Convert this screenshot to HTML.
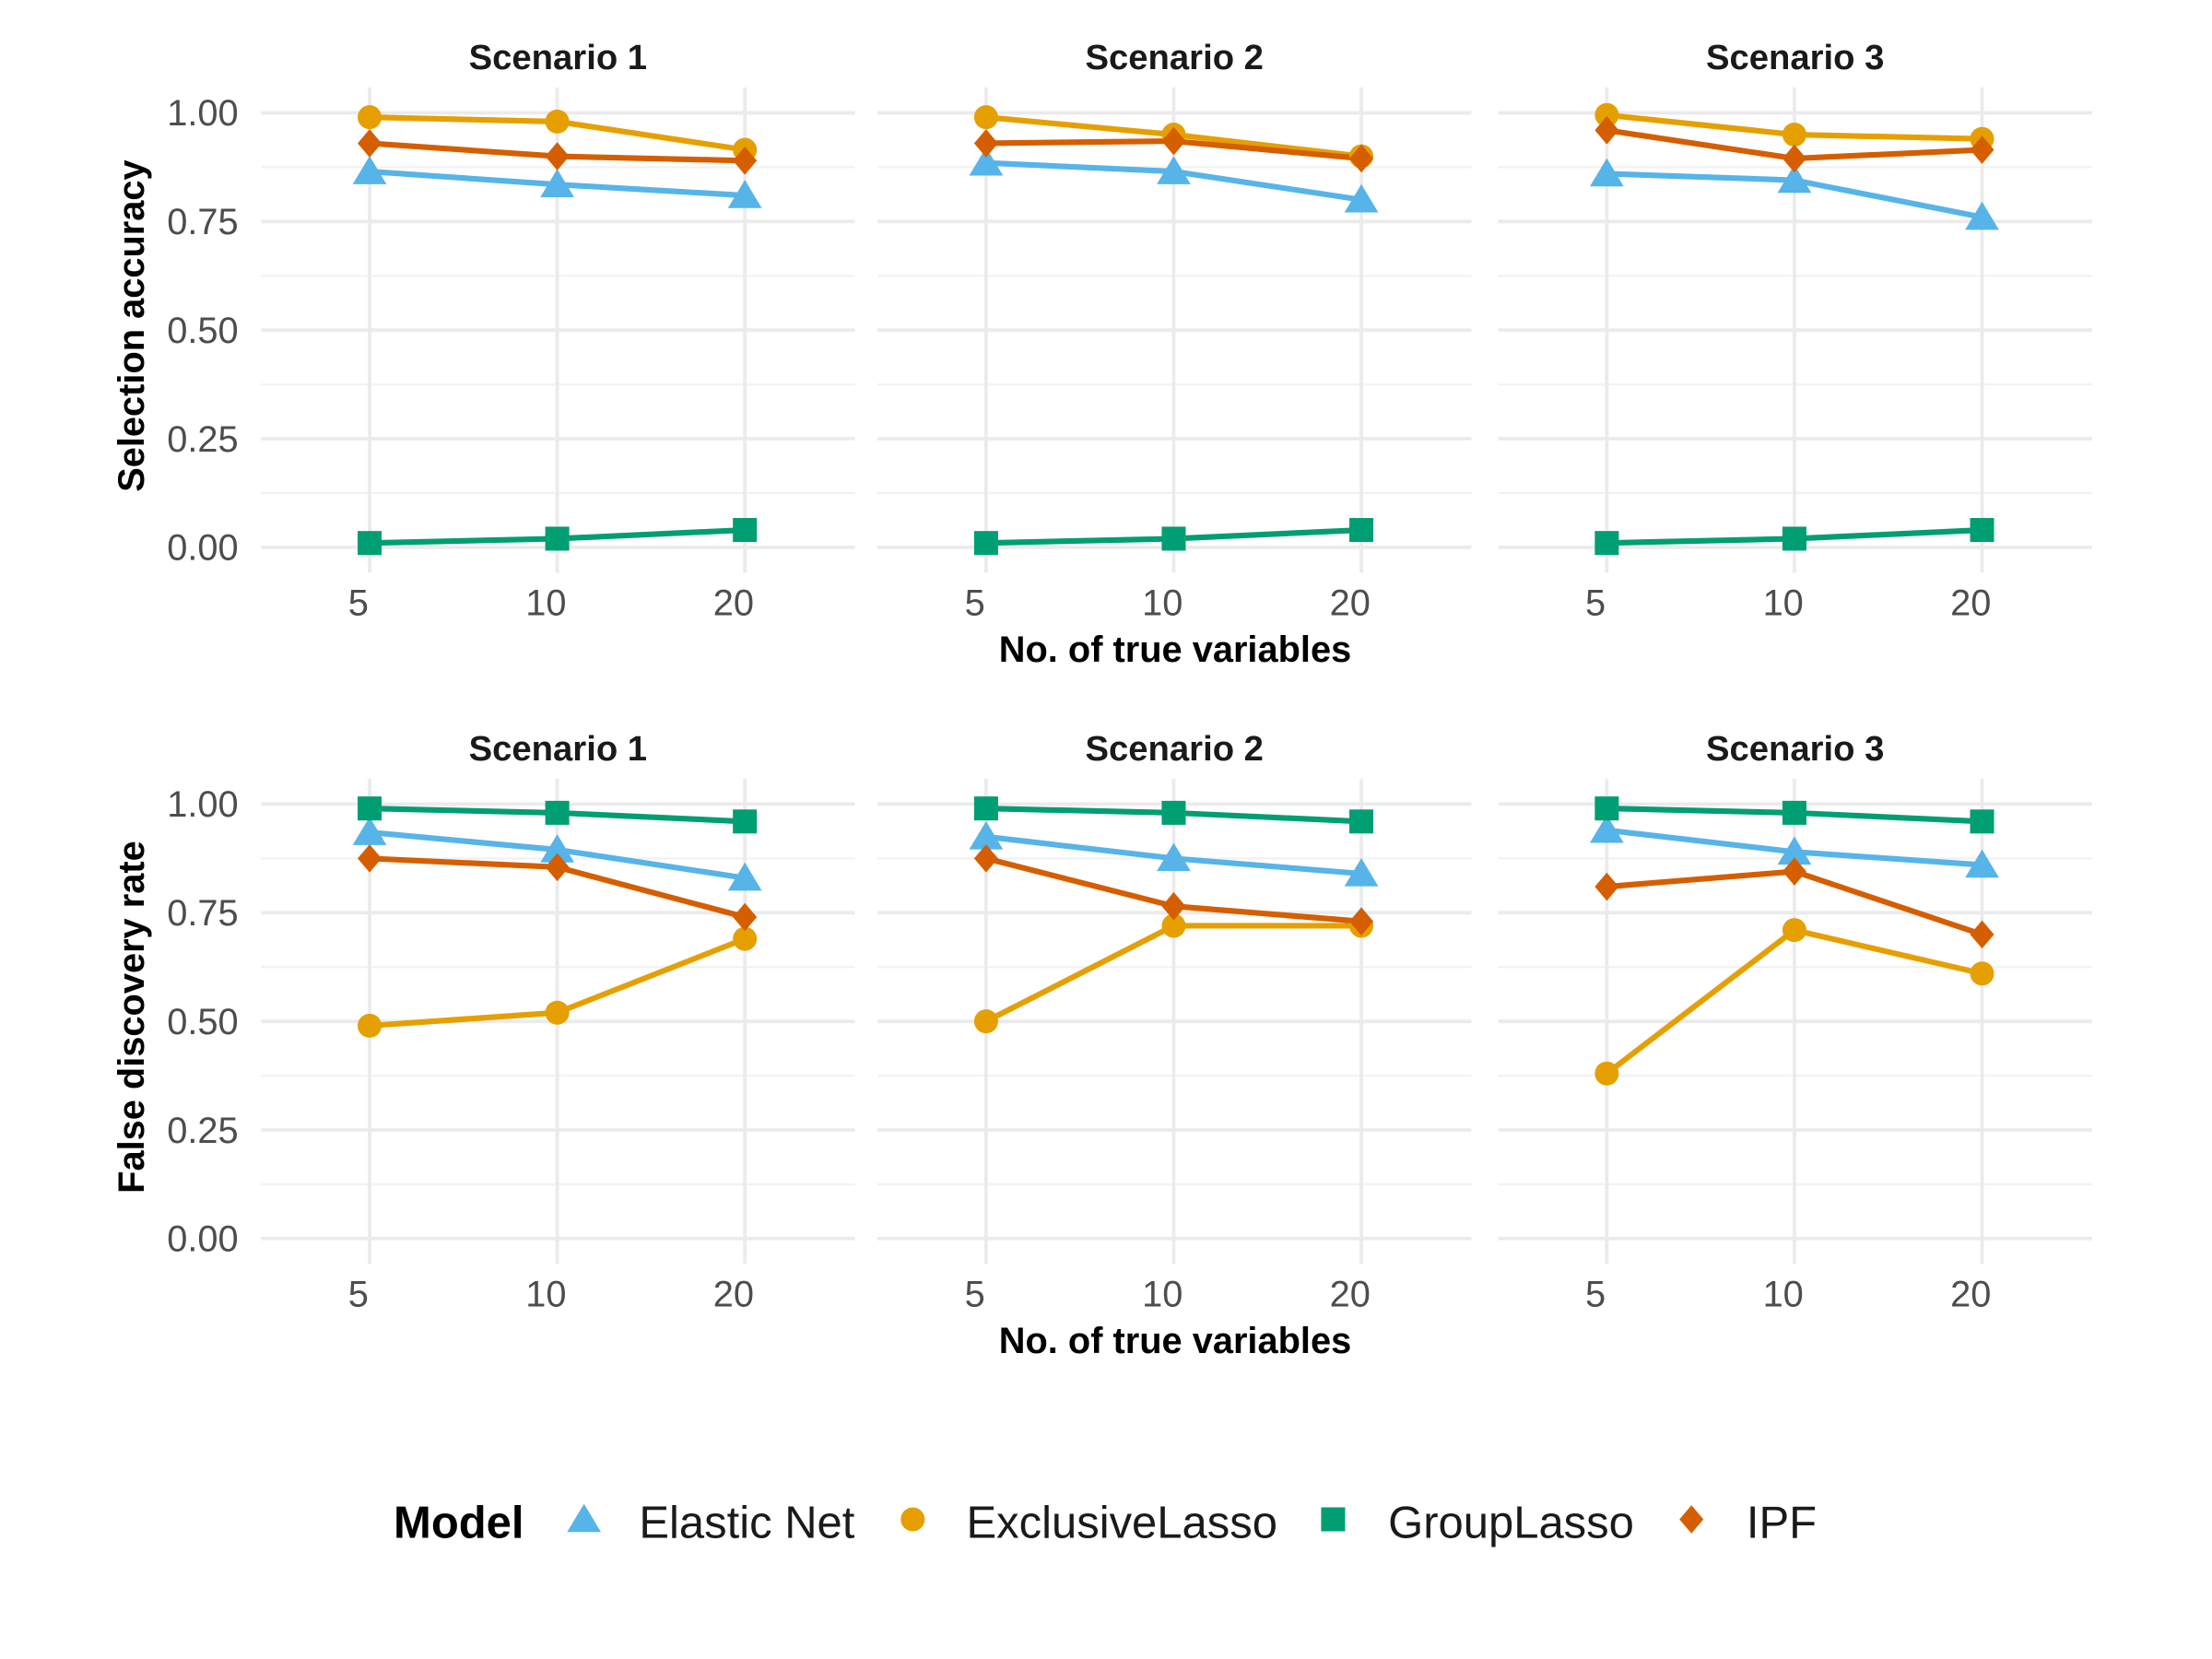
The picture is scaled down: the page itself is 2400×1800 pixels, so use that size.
<!DOCTYPE html>
<html><head><meta charset="utf-8"><style>
html,body{margin:0;padding:0;background:#fff}
svg{display:block}
text{font-family:"Liberation Sans",Arial,sans-serif}
</style></head><body>
<svg id="chart" width="2400" height="1800" viewBox="0 0 1568 1176" xmlns="http://www.w3.org/2000/svg"></svg>
<script>
const scenarios = ["Scenario 1","Scenario 2","Scenario 3"];
const xCats = [5,10,20];
const yTicks = [0,0.25,0.5,0.75,1];
const yTickLabels = ["0.00","0.25","0.50","0.75","1.00"];
const models = ["Elastic Net","ExclusiveLasso","GroupLasso","IPF"];
const colors = ["#56B4E9","#E69F00","#009E73","#D55E00"];
// Selection accuracy [scenario][x]
const accEN = [[0.865,0.835,0.81],[0.885,0.865,0.80],[0.86,0.845,0.76]];
const accEL = [[0.99,0.98,0.915],[0.99,0.95,0.90],[0.995,0.95,0.94]];
const accGL = [[0.01,0.02,0.04],[0.01,0.02,0.04],[0.01,0.02,0.04]];
const accIPF = [[0.93,0.90,0.89],[0.93,0.935,0.895],[0.96,0.895,0.915]];
// False discovery rate
const fdrEN = [[0.935,0.895,0.83],[0.925,0.875,0.84],[0.94,0.89,0.86]];
const fdrEL = [[0.49,0.52,0.69],[0.50,0.72,0.72],[0.38,0.71,0.61]];
const fdrGL = [[0.99,0.98,0.96],[0.99,0.98,0.96],[0.99,0.98,0.96]];
const fdrIPF = [[0.875,0.855,0.74],[0.875,0.765,0.73],[0.81,0.845,0.70]];

const NS="http://www.w3.org/2000/svg";
const svg=document.getElementById('chart');
function el(tag,attrs,parent,txt){const e=document.createElementNS(NS,tag);for(const k in attrs)e.setAttribute(k,attrs[k]);if(txt!==undefined)e.textContent=txt;(parent||svg).appendChild(e);return e;}

const panelLeft=[185,622,1062], panelW=421;
const rows=[{top:80,bottom:388,title:"Selection accuracy",data:[accEN,accEL,accGL,accIPF],ty:40},
            {top:570,bottom:878,title:"False discovery rate",data:[fdrEN,fdrEL,fdrGL,fdrIPF],ty:530}];
function xPos(p,i){return panelLeft[p]+77+i*133;}

function marker(g,m,x,y,c){
  if(m===0){const e=el('polygon',{points:`${x},${y-11} ${x-12},${y+9} ${x+12},${y+9}`,fill:c},g);}
  else if(m===1){const e=el('circle',{cx:x,cy:y,r:8.5,fill:c},g);}
  else if(m===2){const e=el('rect',{x:x-8.5,y:y-8.5,width:17,height:17,fill:c},g);}
  else {const e=el('polygon',{points:`${x},${y-10} ${x+8.5},${y} ${x},${y+10} ${x-8.5},${y}`,fill:c},g);}
}

rows.forEach((r,ri)=>{
  const yPos=v=>r.bottom-(r.bottom-r.top)*v;
  for(let p=0;p<3;p++){
    const g=el('g',{});
    
    
    const L=panelLeft[p],R=L+panelW;
    for(let k=0;k<4;k++){const v=0.125+k*0.25;el('line',{x1:L,x2:R,y1:yPos(v),y2:yPos(v),stroke:'#f2f2f2','stroke-width':1.5},g);}
    yTicks.forEach(v=>el('line',{x1:L,x2:R,y1:yPos(v),y2:yPos(v),stroke:'#ebebeb','stroke-width':2.5},g));
    xCats.forEach((c,i)=>el('line',{x1:xPos(p,i),x2:xPos(p,i),y1:r.top-18,y2:r.bottom+18,stroke:'#ebebeb','stroke-width':2.5},g));
    const t=el('text',{x:L+panelW/2,y:r.ty+9,'text-anchor':'middle','font-size':25,'font-weight':'bold',fill:'#1a1a1a'},g,scenarios[p]);
    
    xCats.forEach((c,i)=>{const tl=el('text',{x:xPos(p,i)-8,y:r.bottom+48,'text-anchor':'middle','font-size':26,fill:'#4d4d4d'},g,String(c));});
    r.data.forEach((series,m)=>{
      const vals=series[p];
      const pts=vals.map((v,i)=>`${xPos(p,i)},${yPos(v)}`).join(' ');
      const pl=el('polyline',{points:pts,fill:'none',stroke:colors[m],'stroke-width':4},g);
      
      
    });
    r.data.forEach((series,m)=>{series[p].forEach((v,i)=>marker(g,m,xPos(p,i),yPos(v),colors[m]));});
  }
  yTicks.forEach((v,k)=>{const t=el('text',{x:169,y:yPos(v)+9,'text-anchor':'end','font-size':26,fill:'#4d4d4d'},svg,yTickLabels[k]);});
  const cy=(r.top+r.bottom)/2-3;
  const yt=el('text',{x:102,y:cy,transform:`rotate(-90 102 ${cy})`,'text-anchor':'middle','font-size':26,'font-weight':'bold',fill:'#000'},svg,r.title);
  
  const xt=el('text',{x:833,y:r.bottom+81,'text-anchor':'middle','font-size':26,'font-weight':'bold',fill:'#000'},svg,'No. of true variables');
  
});

const lg=el('g',{});


const lt=el('text',{x:279,y:1090,'font-size':32,'font-weight':'bold',fill:'#000'},lg,'Model');

const lx=[414,647,945,1199], tx=[453,685,984,1238];
models.forEach((m,i)=>{
  const e=el('g',{},lg);
  
  
  marker(e,i,lx[i],1077,colors[i]);
  el('text',{x:tx[i],y:1090,'font-size':32,fill:'#1a1a1a'},e,m);
});
</script>
</body></html>
